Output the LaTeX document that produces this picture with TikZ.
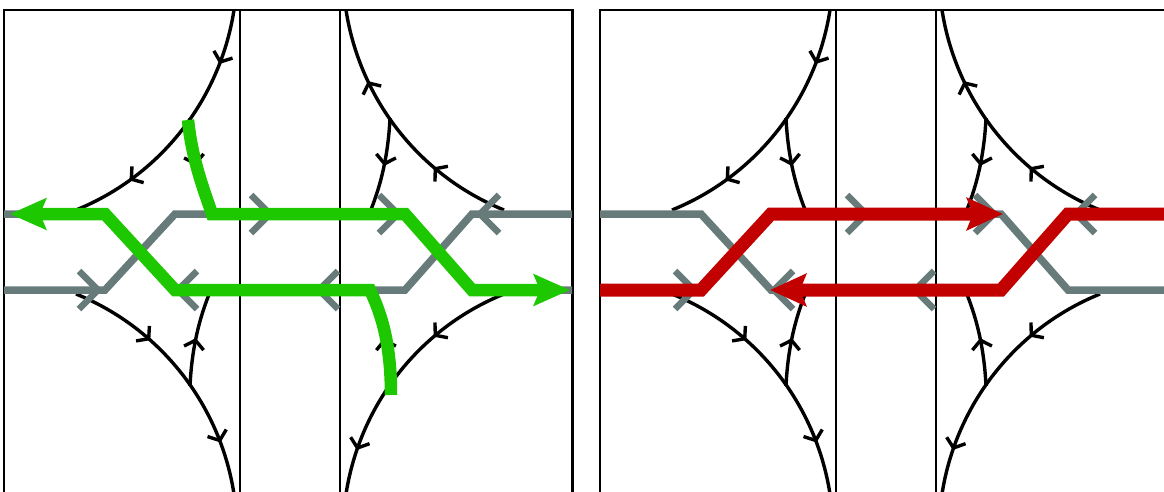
\documentclass[tikz,border=0pt]{standalone}
\usetikzlibrary{arrows.meta,decorations.markings}
\definecolor{strand}{HTML}{687B7B}
\definecolor{pathgreen}{HTML}{1DC800}
\definecolor{pathred}{HTML}{C20000}

\begin{document}
\begin{tikzpicture}[x=1pt,y=-1pt,>={Straight Barb[length=8pt,width=20pt]},
  frame/.style={line width=2.8pt},
  curve/.style={line width=3.4pt},
  strandline/.style={draw=strand,line width=7.5pt},
  chevron/.style={draw=strand,line width=6.5pt},
  twoarrows/.style 2 args={postaction={decorate},decoration={markings,
    mark=at position #1 with {\arrow{>}},mark=at position #2 with {\arrow{>}}}},
  onearrow/.style={postaction={decorate},decoration={markings,
    mark=at position 0.5 with {\arrow{>}}}},
  greenpath/.style={draw=pathgreen,line width=12.5pt,-{Stealth[length=36pt,width=31pt,inset=6pt]}},
  redpath/.style={draw=pathred,line width=13pt,-{Stealth[length=36pt,width=32pt,inset=6pt]}}]
\useasboundingbox (0,0) rectangle (1164,491);
\clip (0,0) rectangle (1164,491);
% the two panels share frame, flow lines and strands
\foreach \sx in {0,596}{
\begin{scope}[xshift=\sx pt]
  \draw[frame] (4,500) -- (4,10) -- (572.5,10) -- (572.5,500);
  \draw[frame] (240,10) -- (240,500) (340,10) -- (340,500);
  % flow lines
  \draw[curve,twoarrows={0.21}{0.77}] (234,10) .. controls (220,100) and (160,176) .. (76,210);
  \draw[curve,onearrow] (190,118) .. controls (192,160) and (201,190) .. (210,212);
  \draw[curve,twoarrows={0.33}{0.8}] (76,294) .. controls (160,328) and (220,404) .. (234,494);
  \draw[curve,onearrow] (190,386) .. controls (192,344) and (201,314) .. (210,292);
  \draw[curve,twoarrows={0.31}{0.72}] (504,210) .. controls (420,176) and (360,100) .. (346,10);
  \draw[curve,onearrow] (390,118) .. controls (388,160) and (379,190) .. (370,212);
  \draw[curve,twoarrows={0.31}{0.83}] (504,294) .. controls (420,328) and (360,404) .. (346,494);
  \draw[curve,onearrow] (390,386) .. controls (388,344) and (379,314) .. (370,292);
  % strands
  \draw[strandline] (4,214) -- (105,214) -- (175,290) -- (405,290) -- (472,214) -- (572,214);
  \draw[strandline] (4,290) -- (105,290) -- (175,214) -- (405,214) -- (472,290) -- (572,290);
  \foreach \cx/\cy/\d in {98/290/1,178/290/-1,270/214/1,319/290/-1,398/214/1,480/214/-1}
    \draw[chevron] ({\cx-19*\d},{\cy-19}) -- (\cx,\cy) -- ({\cx-19*\d},{\cy+19});
\end{scope}}
% left panel paths
\draw[greenpath] (188,120) .. controls (192,160) and (204,190) .. (212,214) -- (405,214) -- (472,290) -- (570,290);
\draw[greenpath] (391,395) .. controls (391,345) and (382,315) .. (370,290) -- (175,290) -- (105,214) -- (10,214);
% right panel paths
\begin{scope}[xshift=596pt]
  \draw[redpath] (4,290) -- (105,290) -- (175,214) -- (407,214);
  \draw[redpath] (575,214) -- (472,214) -- (405,290) -- (174,290);
\end{scope}
\end{tikzpicture}
\end{document}
